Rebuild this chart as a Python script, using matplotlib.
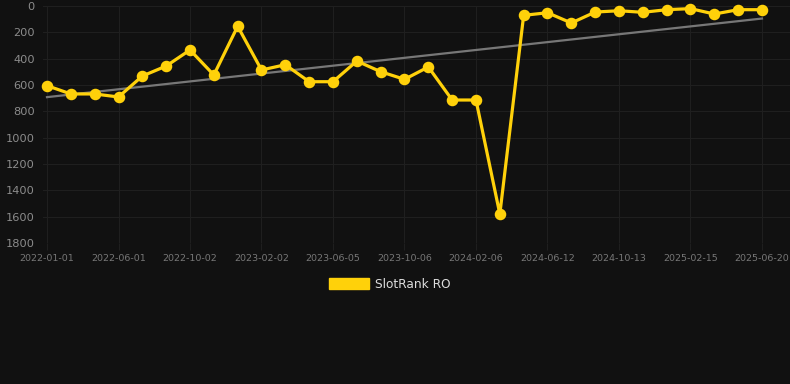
import numpy as np
import matplotlib
matplotlib.use('Agg')
import matplotlib.pyplot as plt
from matplotlib.patches import Patch

# dates of each sample (only every third one is labelled on the axis)
dates = ['2022-01-01', '2022-02-20', '2022-04-11', '2022-06-01', '2022-07-12',
         '2022-08-22', '2022-10-02', '2022-11-12', '2022-12-23', '2023-02-02',
         '2023-03-15', '2023-04-25', '2023-06-05', '2023-07-16', '2023-08-26',
         '2023-10-06', '2023-11-16', '2023-12-27', '2024-02-06', '2024-03-19',
         '2024-04-30', '2024-06-12', '2024-07-23', '2024-09-02', '2024-10-13',
         '2024-11-24', '2025-01-04', '2025-02-15', '2025-03-28', '2025-05-09',
         '2025-06-20']
rank = [605, 668, 668, 691, 532, 456, 334, 524, 154, 486,
        446, 575, 575, 418, 499, 557, 463, 714, 714, 1580,
        71, 51, 129, 46, 36, 48, 28, 20, 61, 28, 28]
y_ticks = [0, 200, 400, 600, 800, 1000, 1200, 1400, 1600, 1800]
series_name = 'SlotRank RO'

bg = '#111111'
grid_col = '#1f1f1f'
gold = '#FFD10A'

fig = plt.figure(figsize=(7.9, 3.84), dpi=100, facecolor=bg)
ax = fig.add_axes([43 / 790, 1 - 243 / 384, 1 - 43 / 790, (243 - 6) / 384])
ax.set_facecolor(bg)

x = np.arange(len(rank))
# linear trend through the data
coef = np.polyfit(x, rank, 1)
ax.plot(x[[0, -1]], np.polyval(coef, x[[0, -1]]), color='#777777', lw=1.6,
        zorder=2)
ax.plot(x, rank, color=gold, lw=2.3, marker='o', ms=7.3, mfc=gold,
        mec=gold, zorder=3, clip_on=False)

ax.set_xlim(-4 / 23.83, 30 + 28 / 23.83)
ax.set_ylim(1800, 0)
ax.set_yticks(y_ticks)
ax.set_yticklabels([str(v) for v in y_ticks])
ax.set_xticks(x[::3])
ax.set_xticklabels(dates[::3])

ax.grid(True, color=grid_col, lw=0.75)
for s in ax.spines.values():
    s.set_visible(False)
ax.tick_params(axis='y', length=0, pad=6, labelsize=8.2, labelcolor='#8c8c8c')
ax.tick_params(axis='x', length=5, color=grid_col, pad=3, labelsize=6.8,
               labelcolor='#777777')
ax.set_axisbelow(True)

fig.legend(handles=[Patch(facecolor=gold, edgecolor=gold, label=series_name)],
           loc='center', bbox_to_anchor=(390 / 790, 1 - 284 / 384),
           frameon=False, fontsize=8.7, labelcolor='#dddddd',
           handlelength=3.3, handleheight=1.0, handletextpad=0.5)

fig.savefig('out.png', dpi=100, facecolor=bg)
